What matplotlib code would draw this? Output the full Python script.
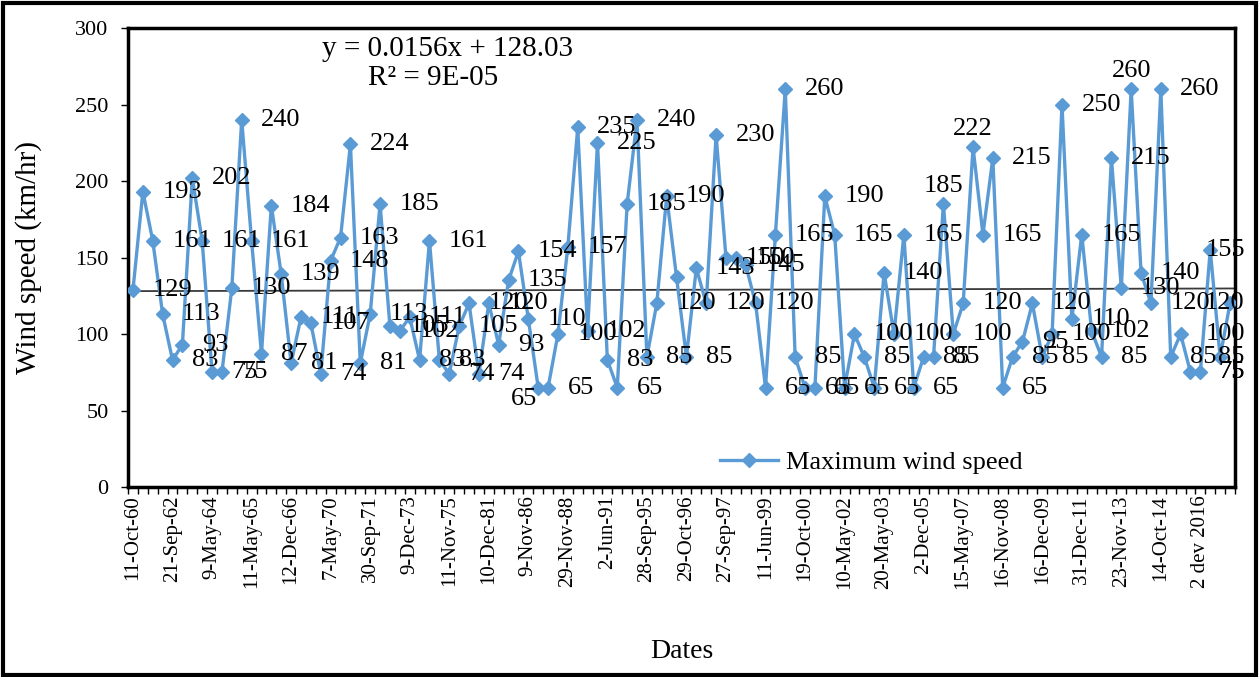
import matplotlib
matplotlib.use('Agg')
import matplotlib.pyplot as plt
from matplotlib.patches import Rectangle

# maximum wind speed (km/hr), one value per event
wind_speed = [129, 193, 161, 113, 83, 93, 202, 161, 75, 75,
              130, 240, 161, 87, 184, 139, 81, 111, 107, 74,
              148, 163, 224, 81, 113, 185, 105, 102, 111, 83,
              161, 83, 74, 105, 120, 74, 120, 93, 135, 154,
              110, 65, 65, 100, 157, 235, 102, 225, 83, 65,
              185, 240, 85, 120, 190, 137, 85, 143, 120, 230,
              150, 150, 145, 120, 65, 165, 260, 85, 65, 65,
              190, 165, 65, 100, 85, 65, 140, 100, 165, 65,
              85, 85, 185, 100, 120, 222, 165, 215, 65, 85,
              95, 120, 85, 100, 250, 110, 165, 102, 85, 215,
              130, 260, 140, 120, 260, 85, 100, 75, 75, 155,
              85, 120]

# category labels shown on the axis (every 4th event)
date_labels = ['11-Oct-60', '21-Sep-62', '9-May-64', '11-May-65', '12-Dec-66',
               '7-May-70', '30-Sep-71', '9-Dec-73', '11-Nov-75', '10-Dec-81',
               '9-Nov-86', '29-Nov-88', '2-Jun-91', '28-Sep-95', '29-Oct-96',
               '27-Sep-97', '11-Jun-99', '19-Oct-00', '10-May-02', '20-May-03',
               '2-Dec-05', '15-May-07', '16-Nov-08', '16-Dec-09', '31-Dec-11',
               '23-Nov-13', '14-Oct-14', '2 dev 2016']
label_step = 4

# linear trend shown on the chart
trend_slope = 0.0156
trend_intercept = 128.03

# points whose data label is hidden / drawn above / drawn below-left
hidden_labels = {55}
above_labels = {82, 85, 101}
left_labels = {41}

plt.rcParams['font.family'] = ['Liberation Serif', 'DejaVu Serif']

fig = plt.figure(figsize=(12.59, 6.77), dpi=100)
ax = fig.add_axes([0.1017, 0.2806, 0.8792, 0.678])

n = len(wind_speed)
x = list(range(n))
blue = '#5b9bd5'

# trend line
trend_x = [-0.5, n - 0.5]
trend_y = [trend_slope * (t + 1) + trend_intercept for t in trend_x]
ax.plot(trend_x, trend_y, color='#3a3a3a', lw=1.3, zorder=2)

# the series
ax.plot(x, wind_speed, color=blue, lw=2.4, marker='D', ms=7,
        label='Maximum wind speed', zorder=3)

# data labels
lab_fs = 19
for i, v in enumerate(wind_speed):
    if i in hidden_labels:
        continue
    if i in above_labels:
        ax.annotate(str(v), (i, v), xytext=(0, 5), textcoords='offset points',
                    ha='center', va='bottom', fontsize=lab_fs, zorder=4)
    elif i in left_labels:
        ax.annotate(str(v), (i, v), xytext=(-1, -8), textcoords='offset points',
                    ha='right', va='center', fontsize=lab_fs, zorder=4)
    elif i >= n - 6:
        ax.annotate(str(v), (n - 0.5, v), xytext=(7, 0), textcoords='offset points',
                    ha='right', va='center', fontsize=lab_fs, zorder=4,
                    annotation_clip=False)
    else:
        ax.annotate(str(v), (i, v), xytext=(14, 0), textcoords='offset points',
                    ha='left', va='center', fontsize=lab_fs, zorder=4)

# trend equation
ax.text(0.289, 0.955, 'y = 0.0156x + 128.03', transform=ax.transAxes,
        ha='center', va='center', fontsize=21)
ax.text(0.2755, 0.891, 'R² = 9E-05', transform=ax.transAxes,
        ha='center', va='center', fontsize=21)

# axes
ax.set_xlim(-0.5, n - 0.5)
ax.set_ylim(0, 300)
ax.set_yticks(range(0, 301, 50))
ax.tick_params(axis='y', labelsize=16, length=5, width=1, direction='out', pad=9)

ax.set_xticks(range(0, n, label_step))
ax.set_xticklabels(date_labels, rotation=90, fontsize=15)
ax.set_xticks([i - 0.5 for i in range(n + 1)], minor=True)
ax.tick_params(axis='x', which='major', length=0, pad=6)
ax.tick_params(axis='x', which='minor', length=5, width=1, direction='out')

for sp in ax.spines.values():
    sp.set_linewidth(2.5)
    sp.set_color('black')

ax.set_ylabel('Wind speed (km/hr)', fontsize=21)
ax.yaxis.set_label_coords(-0.078, 0.5)
ax.set_xlabel('Dates', fontsize=20)
ax.xaxis.set_label_coords(0.5005, -0.33)

ax.legend(loc='center', bbox_to_anchor=(0.6716, 0.0545), frameon=False,
          fontsize=19, handlelength=2.2, handletextpad=0.3)

# outer frame around the whole picture
fig.patches.append(Rectangle((0.002, 0.003), 0.996, 0.993, transform=fig.transFigure,
                             fill=False, edgecolor='black', linewidth=3))

fig.savefig('out.png', dpi=100)
